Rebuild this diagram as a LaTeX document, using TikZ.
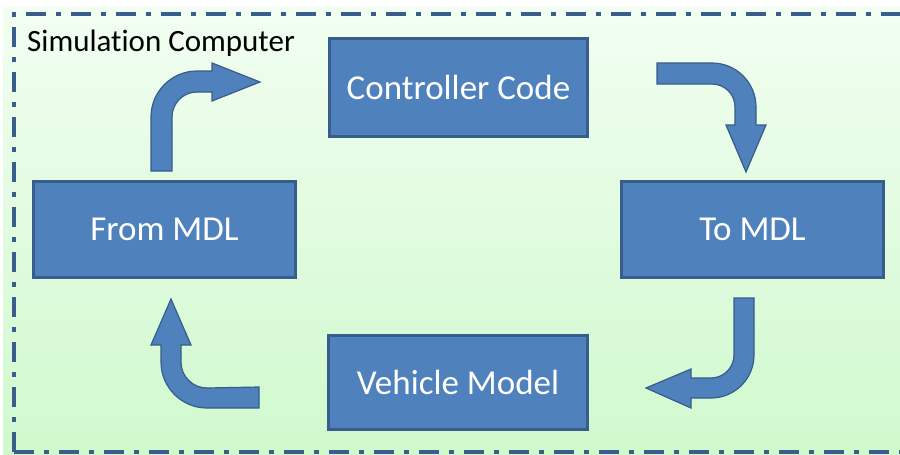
\documentclass[tikz,border=0pt]{standalone}
\usepackage{fontspec}
\setmainfont{Carlito}[Ligatures=NoCommon]
\definecolor{boxfill}{HTML}{4F81BD}
\definecolor{boxline}{HTML}{385D8A}
\definecolor{frameline}{HTML}{3A5E8C}
\definecolor{bgtop}{RGB}{242,254,241}
\definecolor{bgbottom}{RGB}{207,249,205}
\tikzset{
  stage/.style={draw=boxline, line width=3pt, fill=boxfill, text=white,
    font=\fontsize{35}{40}\selectfont, inner sep=0pt},
  flowarrow/.style={draw=boxline, line width=1.2pt, fill=boxfill, line join=miter},
  frame/.style={draw=frameline, line width=4pt,
    dash pattern=on 20pt off 10pt on 5pt off 10pt}
}
\begin{document}
\begin{tikzpicture}[x=1pt,y=1pt]
  \useasboundingbox (0,0) rectangle (900,-455);
  \begin{scope}
    \clip (0,0) rectangle (900,-455);
    % background panel with soft vertical gradient
    \shade[top color=bgtop, bottom color=bgbottom] (3,-7) rectangle (905,-460);
    % dash-dotted boundary of the simulation computer
    \draw[frame] (14,-452) -- (14,-14) -- (920,-14);
    \draw[frame] (14,-452) -- (920,-452);
  \end{scope}

  \node[anchor=base west, inner sep=0pt, font=\fontsize{31}{36}\selectfont] (title) at (27,-51) {Simulation Computer};

  % processing stages
  \node[stage, minimum width=258pt, minimum height=98pt] (ctrl) at (458.5,-87.5) {Controller Code};
  \node[stage, minimum width=262pt, minimum height=96pt] (from) at (164.5,-229.5) {From MDL};
  \node[stage, minimum width=262pt, minimum height=96pt] (to) at (752.5,-229.5) {To MDL};
  \node[stage, minimum width=259pt, minimum height=94pt] (veh) at (458,-382.5) {Vehicle Model};

  % bent block arrows around the loop
  % From MDL -> Controller Code
  \draw[flowarrow] (151,-171) -- (151,-117) arc[start angle=180, end angle=90, radius=46]
    -- (212,-71) -- (212,-63) -- (260,-82) -- (212,-101) -- (212,-92) -- (197,-92)
    arc[start angle=90, end angle=180, radius=25] -- (172,-171) -- cycle;
  % Controller Code -> To MDL
  \draw[flowarrow] (657,-63) -- (712,-63) arc[start angle=90, end angle=0, radius=44]
    -- (756,-125) -- (766,-125) -- (746,-172) -- (726,-125) -- (735,-125) -- (735,-107)
    arc[start angle=0, end angle=90, radius=23] -- (657,-84) -- cycle;
  % To MDL -> Vehicle Model
  \draw[flowarrow] (734,-298) -- (754,-298) -- (754,-355) arc[start angle=0, end angle=-90, radius=43]
    -- (691,-398) -- (691,-408) -- (646,-388) -- (691,-369) -- (691,-378) -- (711,-378)
    arc[start angle=-90, end angle=0, radius=23] -- cycle;
  % Vehicle Model -> From MDL
  \draw[flowarrow] (259,-387) -- (259,-408) -- (207,-408) arc[start angle=-90, end angle=-180, radius=46]
    -- (161,-345) -- (151,-345) -- (171,-299) -- (191,-345) -- (181,-345) -- (181,-362)
    arc[start angle=180, end angle=270, radius=26] -- cycle;
\end{tikzpicture}
\end{document}
